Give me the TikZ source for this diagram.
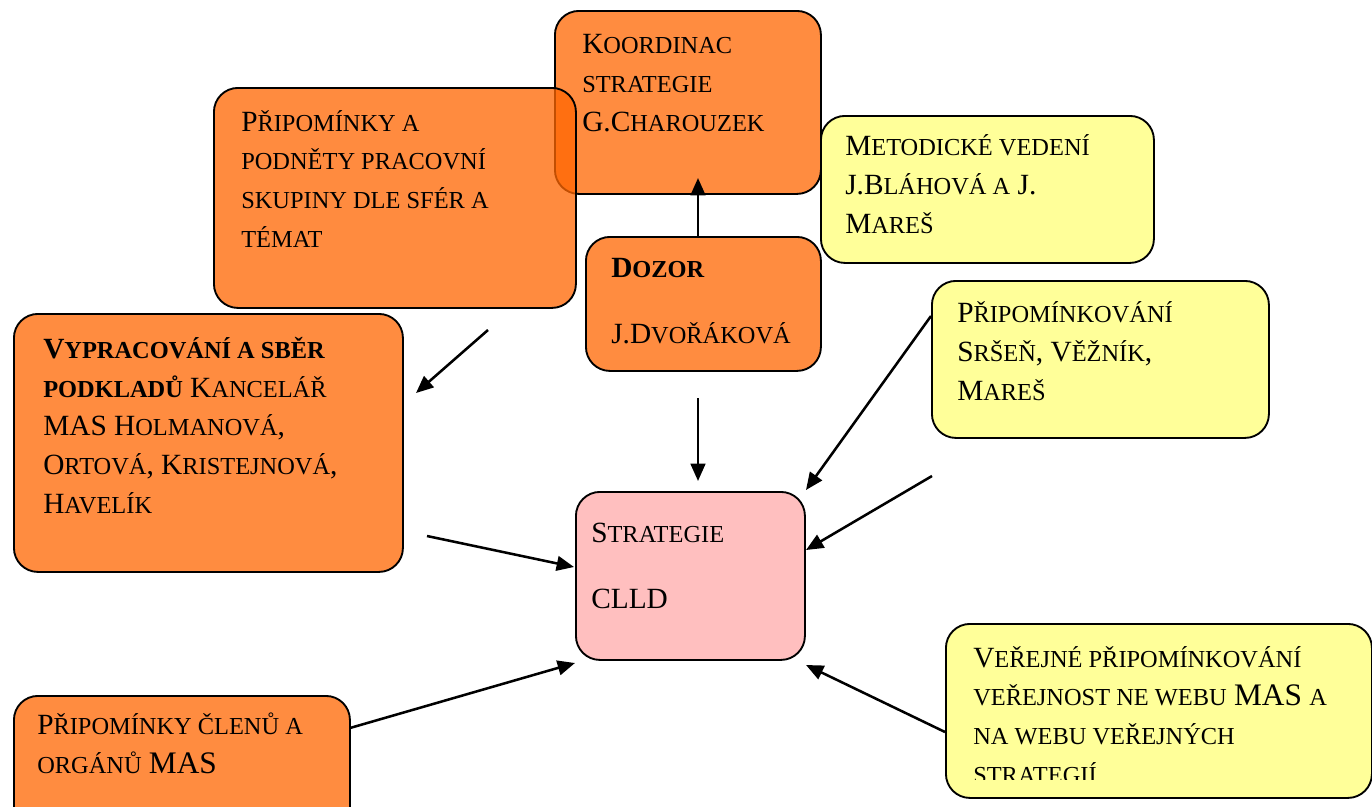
\documentclass[tikz,border=0pt]{standalone}
\usepackage{fontspec}
\setmainfont{Liberation Serif}
\usetikzlibrary{arrows.meta}
\definecolor{org}{HTML}{FF8C40}
\definecolor{orgdk}{HTML}{FF6703}
\definecolor{ylw}{HTML}{FFFF99}
\definecolor{pnk}{HTML}{FFBFBF}
\newcommand\Sc[1]{{\fontsize{18.3}{29}\selectfont #1}}
\newcommand\Bigsz{\fontsize{22}{29}\selectfont}
\newcommand\Mas{{\fontsize{23.5}{29}\selectfont MAS}}
\tikzset{
  box/.style={draw=black, line width=1.4pt, rounded corners=18pt, anchor=north west, inner sep=0pt, rectangle},
  txt/.style={anchor=base west, align=left, inner sep=0pt, font=\Bigsz},
  arr/.style={line width=1.9pt, -{Triangle[length=13pt,width=11pt]}}
}
\begin{document}
\begin{tikzpicture}[x=0.75pt,y=-0.75pt]
\useasboundingbox (0,0) rectangle (1372,807);
% boxes (text nodes are placed at the baseline of their last line)
\node[box, fill=org, minimum width=199.5pt, minimum height=137.25pt] (koord) at (554,10) {};
\node[txt] (koordt) at (582,131) {K\Sc{OORDINAC}\\ \Sc{STRATEGIE}\\ G.C\Sc{HAROUZEK}};
\node[box, fill=orgdk, fill opacity=0.76, minimum width=271.5pt, minimum height=165pt] (podn) at (213,87) {};
\node[txt] (podnt) at (241,247) {P\Sc{ŘIPOMÍNKY A}\\ \Sc{PODNĚTY PRACOVNÍ}\\ \Sc{SKUPINY DLE SFÉR A}\\ \Sc{TÉMAT}};
\node[box, fill=ylw, minimum width=249.75pt, minimum height=110.25pt] (metod) at (820,115) {};
\node[txt] (metodt) at (845,233) {M\Sc{ETODICKÉ VEDENÍ}\\ J.B\Sc{LÁHOVÁ A} J.\\ M\Sc{AREŠ}};
\node[box, fill=org, minimum width=176.25pt, minimum height=100.5pt] (dozor) at (585,236) {};
\node[txt] (dozort) at (611,343) {\textbf{D\Sc{OZOR}}\\[20pt] J.D\Sc{VOŘÁKOVÁ}};
\node[box, fill=org, minimum width=291.75pt, minimum height=193.5pt] (vypr) at (13,313) {};
\node[txt] (vyprt) at (43,513) {\textbf{V\Sc{YPRACOVÁNÍ A SBĚR}}\\ \textbf{\Sc{PODKLADŮ}} K\Sc{ANCELÁŘ}\\ MAS H\Sc{OLMANOVÁ},\\ O\Sc{RTOVÁ}, K\Sc{RISTEJNOVÁ},\\ H\Sc{AVELÍK}};
\node[box, fill=ylw, minimum width=252.75pt, minimum height=117.75pt] (pripom) at (931,280) {};
\node[txt] (pripomt) at (957,400) {P\Sc{ŘIPOMÍNKOVÁNÍ}\\ S\Sc{RŠEŇ}, V\Sc{ĚŽNÍK},\\ M\Sc{AREŠ}};
\node[box, fill=pnk, minimum width=171.75pt, minimum height=126pt] (clld) at (575,491) {};
\node[txt] (clldt) at (591,608) {S\Sc{TRATEGIE}\\[20pt] CLLD};
\node[box, fill=ylw, minimum width=319.5pt, minimum height=130.5pt] (verej) at (945,623) {};
\begin{scope}
\clip (940,620) rectangle (1372,779);
\node[txt] (verejt) at (973,783) {V\Sc{EŘEJNÉ PŘIPOMÍNKOVÁNÍ}\\ \Sc{VEŘEJNOST NE WEBU} \Mas{} \Sc{A}\\ \Sc{NA WEBU VEŘEJNÝCH}\\ \Sc{STRATEGIÍ}};
\end{scope}
\node[box, fill=org, minimum width=252pt, minimum height=108.75pt] (clen) at (13,695) {};
\node[txt] (clent) at (37,773) {P\Sc{ŘIPOMÍNKY ČLENŮ A}\\ \Sc{ORGÁNŮ} \Mas};
% arrow end points
\coordinate (a1s) at (698,236); \coordinate (a1e) at (698,178);
\coordinate (a2s) at (488,330); \coordinate (a2e) at (416,393);
\coordinate (a3s) at (698,398); \coordinate (a3e) at (698,481);
\coordinate (a4s) at (931,316); \coordinate (a4e) at (806,490);
\coordinate (a5s) at (932,476); \coordinate (a5e) at (806,550);
\coordinate (a6s) at (427,536); \coordinate (a6e) at (574,567);
\coordinate (a7s) at (350,728); \coordinate (a7e) at (575,663);
\coordinate (a8s) at (945,732); \coordinate (a8e) at (806,665);
\draw[arr] (a1s) -- (a1e);
\draw[arr] (a2s) -- (a2e);
\draw[arr] (a3s) -- (a3e);
\draw[arr] (a4s) -- (a4e);
\draw[arr] (a5s) -- (a5e);
\draw[arr] (a6s) -- (a6e);
\draw[arr] (a7s) -- (a7e);
\draw[arr] (a8s) -- (a8e);
\end{tikzpicture}
\end{document}
